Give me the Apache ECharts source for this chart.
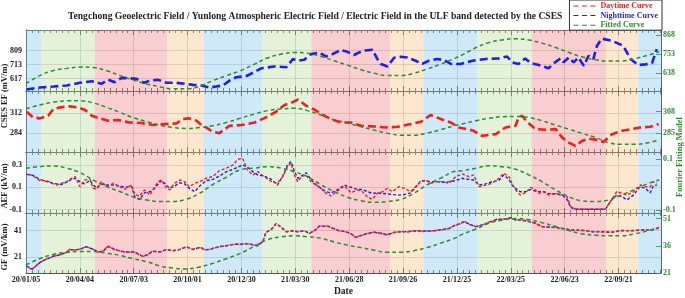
<!DOCTYPE html>
<html>
<head>
<meta charset="utf-8">
<script src="https://cdn.jsdelivr.net/npm/echarts@6/dist/echarts.min.js"></script>
<style>html,body{margin:0;padding:0;background:#fff}#c{width:685px;height:298px}</style>
</head>
<body>
<div id="c"></div>
<script>
// ---------- DATA ----------
const xTickLabels = ['20/01/05','20/04/04','20/07/03','20/10/01','20/12/30','21/03/30','21/06/28','21/09/26','21/12/25','22/03/25','22/06/23','22/09/21'];
const xMax = 1061; // days since 2020-01-05 at right edge

const seasonBounds = [0, 25, 115, 236, 297, 395, 477, 608, 664, 754, 845, 969, 1023, 1061];
const seasonKinds = ['winter','spring','summer','autumn','winter','spring','summer','autumn','winter','spring','summer','autumn','winter'];

// Fitted (Fourier) curves
const fitDays = [0,23,45,68,90,112,135,157,178,202,223,245,268,290,312,335,357,382,403,427,448,470,493,515,537,560,582,603,627,648,670,693,715,728,752,773,795,818,840,862,885,907,928,952,973,995,1018,1040,1058];
const fitCsesNight = [573,622,652,666,674,672,652,622,596,571,555,541,541,557,591,622,650,692,729,753,763,759,738,712,686,658,636,622,622,636,662,692,725,747,793,823,839,847,839,820,793,763,737,718,711,711,726,747,767];
const fitCsesDay = [310.9,315.2,318,319.6,319.6,317.4,312.6,307.2,301.8,297.2,293.6,291,290,291,292.9,296.4,300.8,305.5,309.1,310.9,311.6,309.1,304.4,299.4,295.8,291.8,288.2,285,282.8,282.8,285,288.6,292.9,294.7,298.3,300.8,302.6,302.9,301.8,298.3,293.6,289.3,285,280.2,274.8,273.1,273.1,274.8,277.8];
const fitAef = [0.064,0.070,0.073,0.064,0.047,0.018,-0.008,-0.027,-0.047,-0.060,-0.066,-0.066,-0.057,-0.034,0.000,0.029,0.057,0.064,0.070,0.064,0.051,0.031,-0.001,-0.027,-0.049,-0.063,-0.069,-0.066,-0.057,-0.034,-0.001,0.025,0.051,0.054,0.064,0.073,0.070,0.060,0.038,0.012,-0.021,-0.047,-0.063,-0.066,-0.060,-0.040,-0.018,0.005,0.018];
const fitGf = [25.5,28.9,31.2,32.4,32.9,32.9,31.9,30.7,28.9,27.2,25,23.7,23.2,24.3,26.3,28.9,31.7,35.8,39.3,41,41.5,41,40.1,38.1,36.4,35,33.6,32.4,32.4,33.3,35,37.5,40,42.2,45.3,48.4,50.1,51,50.5,48.8,46.7,44.4,42.7,41.8,41.5,41.5,42.7,44.4,46.2];

// CSES EF nighttime (mV/m)
const csesNightDays = [1,23,46,68,90,110,126,137,148,160,173,185,197,207,221,235,251,265,279,293,307,318,329,340,351,362,370,393,415,435,446,454,465,476,490,501,512,526,537,548,562,579,587,593,604,615,626,637,651,662,673,687,698,710,726,746,768,790,804,812,823,834,843,857,873,884,893,898,907,915,923,932,940,948,954,962,979,998,1010,1023,1035,1046,1054];
const csesNightVals = [542,556,563,570,588,599,581,610,592,622,619,615,588,603,608,588,588,581,574,570,556,563,570,603,626,631,637,687,700,694,751,739,746,784,795,768,784,812,800,778,807,814,751,717,700,759,766,761,739,717,739,751,744,717,717,739,751,755,768,728,717,755,723,710,687,728,755,728,761,728,761,705,773,751,841,890,875,841,751,710,714,723,818];

// CSES EF daytime (mV/m)
const csesDayDays = [1,12,23,37,46,57,73,85,98,110,123,137,154,173,193,212,232,251,262,273,285,293,301,312,323,340,360,382,401,418,432,443,454,468,482,496,512,526,543,560,582,601,621,643,660,676,693,710,723,737,748,762,785,801,818,823,829,837,851,868,885,896,907,918,929,940,954,965,979,996,1012,1026,1043,1057];
const csesDayVals = [313.8,305.9,304.5,308.2,317.6,319.8,321.2,319.8,316.6,308.2,304.5,301.2,302.2,298.8,298,295.2,296.6,297.4,303.6,304.5,301.2,295.2,291.9,285.8,284,294.2,295.2,298.8,305.9,313.8,323.2,326,330.6,322.2,316.6,309.2,302.6,298.8,298.8,294.2,293.2,291.9,292.8,296.6,299.8,309.2,303.6,298.8,291.9,289.6,287.2,280.2,282.6,291.9,294.2,305.9,308.2,299.8,289.6,288.6,289.6,277.8,270.8,266.2,273.2,276.4,274.6,271.8,282.6,287.2,289.6,291.9,292.8,296.6];

// AEF (kV/m)
const aefDays = [1,12,23,35,43,51,60,68,76,82,90,98,107,112,118,126,135,146,157,165,176,182,190,198,207,215,221,226,235,240,248,257,265,273,282,290,301,312,323,335,346,354,362,370,379,387,398,410,420,429,437,443,448,454,460,468,476,485,493,501,510,521,532,543,554,562,571,579,587,596,604,612,623,632,643,651,660,668,676,687,696,707,718,729,740,748,757,768,779,790,798,807,812,818,826,835,843,851,857,865,873,885,896,904,910,918,940,968,979,987,996,1004,1015,1026,1035,1043,1048,1054];
const aefDayVals = [0.225,0.2,0.159,0.159,0.136,0.12,0.136,0.15,0.18,0.195,0.105,0.165,0.171,0.091,0.082,0.15,0.105,0.136,0.105,0.082,0.12,0.031,0.022,0.076,0.031,0.105,0.15,0.165,0.091,0.076,0.136,0.165,0.15,0.105,0.136,0.15,0.18,0.195,0.248,0.27,0.3,0.35,0.359,0.255,0.21,0.24,0.195,0.15,0.136,0.195,0.284,0.314,0.21,0.15,0.195,0.21,0.15,0.12,0.091,0.046,0.022,0.07,0.112,0.052,0.076,0.061,0.011,-0.007,0.046,0.061,0.091,0.061,0.105,0.091,0.061,0.105,0.15,0.165,0.136,0.15,0.15,0.136,0.195,0.219,0.195,0.21,0.105,0.12,0.136,0.18,0.225,0.195,0.136,0.076,0.031,0.052,0.1,0.076,0.046,0.061,0.031,0.046,0.031,0.016,-0.073,-0.096,-0.096,-0.096,-0.007,0.061,0.046,0.031,0.061,0.12,0.105,0.105,0.15,0.136];
const aefNightVals = [0.215,0.205,0.17,0.15,0.14,0.13,0.125,0.145,0.17,0.18,0.15,0.13,0.16,0.12,0.095,0.13,0.12,0.12,0.11,0.1,0.11,0.01,-0.01,0.05,0.06,0.09,0.13,0.16,0.12,0.09,0.11,0.14,0.13,0.09,0.06,0.11,0.16,0.17,0.2,0.24,0.26,0.28,0.3,0.28,0.24,0.21,0.2,0.17,0.12,0.2,0.3,0.33,0.25,0.18,0.2,0.23,0.17,0.12,0.09,0.06,0.05,0.08,0.12,0.1,0.08,0.08,0.06,0.045,0.05,0.045,0.04,0.035,0.03,0.035,0.05,0.1,0.16,0.155,0.15,0.15,0.145,0.15,0.16,0.18,0.17,0.165,0.12,0.13,0.15,0.16,0.21,0.17,0.12,0.09,0.06,0.06,0.08,0.065,0.06,0.06,0.045,0.04,0.03,-0.01,-0.08,-0.096,-0.096,-0.096,-0.01,0.03,0.016,-0.013,0.03,0.105,0.09,0.05,0.11,0.12];

// GF (mV/km)
const gfDays = [1,10,18,26,35,46,57,68,73,85,93,101,110,121,129,137,146,157,168,179,187,196,204,212,223,235,246,257,268,279,290,301,312,323,335,346,357,371,387,396,401,410,418,426,435,446,454,465,473,482,490,504,512,523,535,543,551,560,571,582,593,604,615,626,637,651,665,682,698,707,718,726,732,740,751,762,773,787,801,809,818,829,840,851,862,873,885,898,912,929,946,962,979,996,1012,1029,1046,1057];
const gfDayVals = [13.9,11.6,15.1,17.5,19.8,21.5,22.9,24.5,26.9,26.2,27.6,28.6,27.4,24.5,25.7,29.3,26.9,25.7,24.5,25.2,23.3,21.5,22.9,25.7,24.5,26.9,25.7,26.9,28.6,26.9,28.1,26.2,27.6,28.6,29.7,30.4,30.9,30.9,29.3,32.8,39.9,41.7,46.4,43.4,39.9,41,39.9,41,38.7,41,44.1,44.5,42.7,41,39.9,38.7,35.6,37.5,38.7,39.9,38.7,38,39.4,40.3,39.9,41,40.3,41,41.7,42.7,45,46.4,48,45.7,44.1,45,47.3,49.2,49.9,50.4,49.2,48.7,48,46.4,44.1,43.4,43.4,42.2,41.5,41,40.3,39.9,39.9,40.8,41,41.3,41.7,42.7];
const gfNightVals = [14.3,11.9,14.8,17.9,19.5,21.8,22.6,24.8,26.5,26.6,27.3,28.9,27.1,24.9,25.4,29.0,27.3,25.4,24.8,24.9,23.6,21.3,23.2,25.4,24.8,26.6,25.9,26.6,28.9,26.6,28.4,26.5,27.3,28.9,29.4,30.7,30.6,31.2,29.6,33.2,39.6,42.0,46.0,43.7,40.2,40.7,40.2,40.7,39.0,40.7,44.4,44.2,43.0,40.7,40.2,38.4,35.9,37.2,39.0,39.6,39.0,37.7,39.7,40.0,40.2,40.7,40.6,40.7,42.0,42.4,45.3,46.1,47.7,46.0,43.8,45.3,47.0,49.5,49.6,50.7,48.9,49.0,47.7,46.7,43.8,43.7,43.1,42.5,41.2,41.3,40.0,40.2,39.6,41.1,40.7,41.6,41.4,43.0];

// Axis tick values
const leftTicks = [[617,713,809],[284,312],[-0.1,0.1,0.3],[21,41]];
const rightTicks = [[638,753,868],[285,308],[-0.1,0.1],[21,36,51]];

// ---------- STYLE / LAYOUT ----------
const SERIF = '"Liberation Serif","Times New Roman",serif';
const RED = '#f21d1d', BLUE = '#1f1fe6', GREEN = '#2e8b2e', AX = '#555';
const seasonColor = {winter:'rgba(126,195,235,0.36)', spring:'rgba(181,218,149,0.36)', summer:'rgba(238,126,132,0.38)', autumn:'rgba(249,189,121,0.36)'};
const grids = [
  {left:26, right:24, top:30, height:61},
  {left:26, right:24, top:91, height:61},
  {left:26, right:24, top:152, height:61},
  {left:26, right:24, top:213, height:64}
];
const leftRange = [[532,949],[257.8,342.5],[-0.13,0.415],[9,54.2]];
const rightRange = [[528,900],[264.8,330.1],[-0.1105,0.127],[21,54.1]];

const bands = [];
for (let i = 0; i < seasonKinds.length; i++) {
  bands.push([{xAxis: seasonBounds[i], itemStyle:{color: seasonColor[seasonKinds[i]]}}, {xAxis: seasonBounds[i+1]}]);
}
const pairs = (d, v) => d.map((x, i) => [x, v[i]]);

const xAxes = [], yAxes = [];
grids.forEach((g, gi) => {
  ['bottom','top'].forEach(pos => {
    const showLab = (gi === 3 && pos === 'bottom');
    xAxes.push({
      type:'value', gridIndex: gi, position: pos, min: 0, max: xMax, interval: 90,
      axisLine:{show:true, onZero:false, lineStyle:{color:AX, width:1}},
      axisTick:{show:true, inside:true, length:5, lineStyle:{color:AX}},
      minorTick:{show:true, splitNumber:9, length:3, lineStyle:{color:'#666'}},
      axisLabel:{show: showLab, margin: 3, fontFamily: SERIF, fontWeight:'bold', fontSize: 8, color:'#222',
        formatter: v => (v % 90 === 0 && xTickLabels[v/90]) ? xTickLabels[v/90] : ''},
      splitLine:{show: pos === 'bottom', lineStyle:{color:'rgba(140,140,140,0.35)', width:1}},
      name: showLab ? 'Date' : '', nameLocation:'middle', nameGap: 14,
      nameTextStyle:{fontFamily: SERIF, fontWeight:'bold', fontSize: 9.5, color:'#222'}
    });
  });
  yAxes.push({
    type:'value', gridIndex: gi, position:'left', min: leftRange[gi][0], max: leftRange[gi][1],
    axisLine:{show:true, onZero:false, lineStyle:{color:AX}},
    axisTick:{show:false, customValues: leftTicks[gi]},
    axisLabel:{customValues: leftTicks[gi], margin: 4, fontFamily: SERIF, fontWeight:'bold', fontSize: 8, color:'#222'},
    splitLine:{show:true, lineStyle:{color:'rgba(140,140,140,0.35)'}}
  });
  yAxes.push({
    type:'value', gridIndex: gi, position:'right', min: rightRange[gi][0], max: rightRange[gi][1],
    axisLine:{show:true, onZero:false, lineStyle:{color:GREEN}},
    axisTick:{show:true, inside:true, length:5, customValues: rightTicks[gi], lineStyle:{color:GREEN}},
    axisLabel:{customValues: rightTicks[gi], margin: 2, fontFamily: SERIF, fontWeight:'bold', fontSize: 8, color:GREEN},
    splitLine:{show:false}
  });
});

const thick = (color, off) => ({color, width:2.6, type:[8,4], dashOffset: off || 0});
const thin = (color, off) => ({color, width:1.4, type:[3,2], dashOffset: off || 0});
const fitStyle = {color:GREEN, width:1.5, type:[4,3]};

function line(name, gi, yi, data, ls, extra) {
  return Object.assign({
    type:'line', name, xAxisIndex: gi*2, yAxisIndex: gi*2 + yi, data,
    symbol:'none', showSymbol:false, lineStyle: ls, itemStyle:{color: ls.color},
    silent:true, z: 3
  }, extra || {});
}
const area = {silent:true, data: bands, z: 1};

const series = [
  line('Nighttime Curve', 0, 0, pairs(csesNightDays, csesNightVals), thick(BLUE), {markArea: area}),
  line('Fitted Curve', 0, 1, pairs(fitDays, fitCsesNight), fitStyle, {smooth:0.4}),
  line('Daytime Curve', 1, 0, pairs(csesDayDays, csesDayVals), thick(RED), {markArea: area}),
  line('Fitted Curve', 1, 1, pairs(fitDays, fitCsesDay), fitStyle, {smooth:0.4}),
  line('Nighttime Curve', 2, 0, pairs(aefDays, aefNightVals), thin(BLUE), {markArea: area}),
  line('Daytime Curve', 2, 0, pairs(aefDays, aefDayVals), thin(RED, 2.5)),
  line('Fitted Curve', 2, 1, pairs(fitDays, fitAef), fitStyle, {smooth:0.4}),
  line('Nighttime Curve', 3, 0, pairs(gfDays, gfNightVals), thin(BLUE), {markArea: area}),
  line('Daytime Curve', 3, 0, pairs(gfDays, gfDayVals), thin(RED, 2.5)),
  line('Fitted Curve', 3, 1, pairs(fitDays, fitGf), fitStyle, {smooth:0.4})
];

const DASH_ICON = 'path://M0,0H5V1H0Z M8.5,0H13.5V1H8.5Z M17,0H22V1H17Z';
const legendText = c => ({color: c, fontFamily: SERIF, fontWeight:'bold', fontSize: 8, lineHeight: 8});
const option = {
  animation:false,
  backgroundColor:'#fff',
  title:{text:'Tengchong Geoelectric Field / Yunlong Atmospheric Electric Field / Electric Field in the ULF band detected by the CSES',
    left: 68, top: 12, padding: 0,
    textStyle:{fontFamily: SERIF, fontWeight:'bold', fontSize: 9.6, color:'#222'}},
  legend:{
    orient:'vertical', right: 23, top: 0, padding:[2,4,1,4], itemGap: 1.6, itemWidth: 22, itemHeight: 2,
    backgroundColor:'#fff', borderColor:'#333', borderWidth: 1, borderRadius: 0,
    data:[
      {name:'Daytime Curve', icon: DASH_ICON, itemStyle:{color:RED}, textStyle: legendText(RED)},
      {name:'Nighttime Curve', icon: DASH_ICON, itemStyle:{color:BLUE}, textStyle: legendText(BLUE)},
      {name:'Fitted Curve', icon: DASH_ICON, itemStyle:{color:GREEN}, textStyle: legendText(GREEN)}
    ]
  },
  grid: grids,
  xAxis: xAxes,
  yAxis: yAxes,
  series,
  graphic:[
    {type:'text', x:5, y:96, rotation:Math.PI/2, style:{text:'CSES EF (mV/m)', font:'bold 8.5px ' + SERIF, fill:'#222', align:'center', verticalAlign:'middle'}},
    {type:'text', x:5, y:186, rotation:Math.PI/2, style:{text:'AEF (kV/m)', font:'bold 8.5px ' + SERIF, fill:'#222', align:'center', verticalAlign:'middle'}},
    {type:'text', x:5, y:247, rotation:Math.PI/2, style:{text:'GF (mV/km)', font:'bold 8.5px ' + SERIF, fill:'#222', align:'center', verticalAlign:'middle'}},
    {type:'text', x:680, y:157, rotation:Math.PI/2, style:{text:'Fourier Fitting Model', font:'bold 8.5px ' + SERIF, fill:GREEN, align:'center', verticalAlign:'middle'}}
  ]
};
const chart = echarts.init(document.getElementById('c'), null, {renderer:'canvas'});
chart.setOption(option);
</script>
</body>
</html>
